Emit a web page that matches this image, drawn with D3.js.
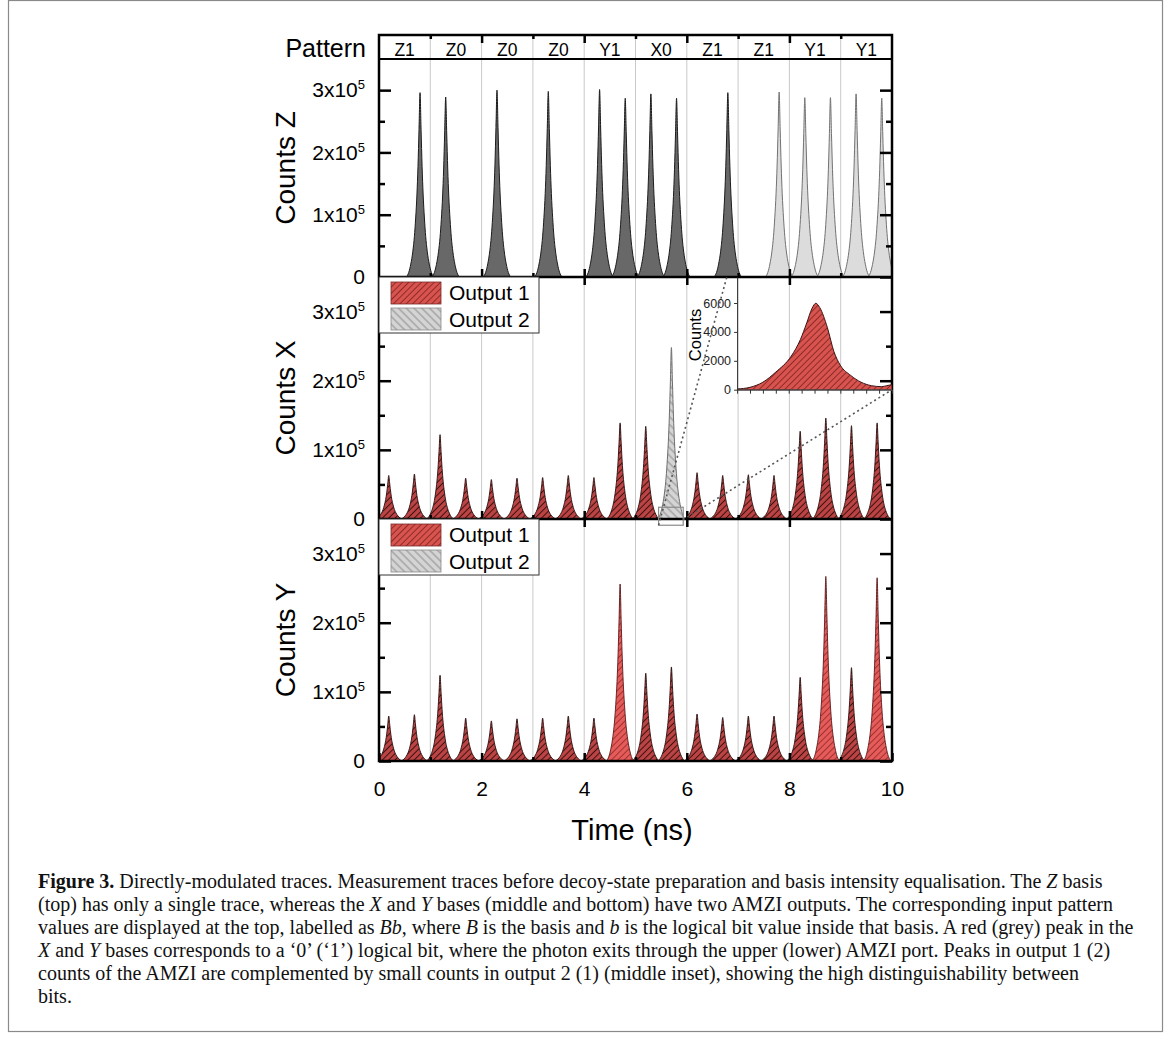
<!DOCTYPE html>
<html>
<head>
<meta charset="utf-8">
<script src="https://cdn.jsdelivr.net/npm/d3@7"></script>
<style>
  body { margin: 0; background: #fff; }
</style>
</head>
<body>
<div id="chart"></div>
<script>
// ---------------- data ----------------
const patternLabels = ["Z1", "Z0", "Z0", "Z0", "Y1", "X0", "Z1", "Z1", "Y1", "Y1"];

// Z basis (top panel): peak times (ns), peak counts, shade of the trace
const zTimes  = [0.80, 1.30, 2.30, 3.30, 4.30, 4.80, 5.30, 5.80, 6.80, 7.80, 8.30, 8.80, 9.30, 9.80];
const zCounts = [296000, 289000, 300000, 298000, 301000, 287000, 294000, 287000, 296000,
                 297000, 288000, 288000, 294000, 287000];
const zShade  = ["dark", "dark", "dark", "dark", "dark", "dark", "dark", "dark", "dark",
                 "light", "light", "light", "light", "light"];

// X and Y bases: time slots (ns) and counts of the two AMZI outputs
const slotTimes = [0.19, 0.69, 1.19, 1.69, 2.19, 2.69, 3.19, 3.69, 4.19, 4.70,
                   5.20, 5.70, 6.20, 6.70, 7.20, 7.70, 8.21, 8.71, 9.21, 9.71];
const xOutput1 = [63000, 65000, 122000, 59000, 57000, 59000, 60000, 63000, 60000, 139000,
                  134000, 6000, 67000, 63000, 64000, 63000, 127000, 146000, 135000, 139000];
const xOutput2 = [0, 0, 0, 0, 0, 0, 0, 0, 0, 0,
                  0, 248000, 0, 0, 0, 0, 0, 0, 0, 0];
const yOutput1 = [65000, 67000, 124000, 62000, 58000, 61000, 62000, 65000, 62000, 256000,
                  127000, 136000, 68000, 63000, 65000, 65000, 121000, 267000, 135000, 265000];
const yShade   = ["dark", "dark", "dark", "dark", "dark", "dark", "dark", "dark", "dark", "light",
                  "dark", "dark", "dark", "dark", "dark", "dark", "dark", "light", "dark", "light"];

// inset (middle panel): zoom on the small output-1 peak under the grey one
const insetTimes  = [5.40, 5.45, 5.50, 5.55, 5.61, 5.645, 5.67, 5.69, 5.705, 5.72,
                     5.75, 5.775, 5.80, 5.84, 5.88, 5.92, 5.96, 5.98, 6.00];
const insetCounts = [50, 165, 520, 1220, 2330, 3460, 4630, 5620, 5980, 5690,
                     4280, 2640, 1690, 990, 520, 280, 210, 280, 350];

// normalised shape of a single detector pulse (offset in ns, relative height)
const pulseOffsets = [-0.27, -0.22, -0.18, -0.14, -0.11, -0.085, -0.06, -0.04, -0.02, 0,
                      0.02, 0.04, 0.06, 0.085, 0.11, 0.14, 0.18, 0.22, 0.27];
const pulseShape   = [0, 0.025, 0.07, 0.14, 0.22, 0.32, 0.45, 0.60, 0.80, 1,
                      0.80, 0.60, 0.45, 0.32, 0.22, 0.14, 0.07, 0.025, 0];

// ---------------- layout ----------------
const W = 1171, H = 1039;
const left = 379, right = 892, patternTop = 35;
const panels = [
    { key: "Z", label: "Counts Z", top: 59,  bottom: 277 },
    { key: "X", label: "Counts X", top: 277, bottom: 519 },
    { key: "Y", label: "Counts Y", top: 519, bottom: 761 }
];
const sansFont = "'Liberation Sans', Arial, sans-serif";

const svg = d3.select("#chart").append("svg")
    .attr("width", W)
    .attr("height", H)
    .style("font-family", sansFont);

svg.append("rect").attr("width", W).attr("height", H).attr("fill", "#fff");

// hatch patterns
const defs = svg.append("defs");
function hatch(id, bg, line, angle, spacing, lw) {
    const p = defs.append("pattern")
        .attr("id", id)
        .attr("patternUnits", "userSpaceOnUse")
        .attr("width", spacing)
        .attr("height", spacing)
        .attr("patternTransform", `rotate(${angle})`);
    p.append("rect").attr("width", spacing).attr("height", spacing).attr("fill", bg);
    p.append("line")
        .attr("x1", spacing / 2).attr("y1", 0)
        .attr("x2", spacing / 2).attr("y2", spacing)
        .attr("stroke", line).attr("stroke-width", lw);
}
hatch("redDark", "#bc4444", "#3a1010", 45, 4.5, 1);
hatch("redLight", "#e65c5a", "#9e3030", 45, 4.5, 1);
hatch("redLegend", "#d9544f", "#8c2a28", 45, 4.5, 1);
hatch("greyHatch", "#d4d4d4", "#8e8e8e", -45, 5.5, 1);

const x = d3.scaleLinear().domain([0, 10]).range([left, right]);

// vertical grid lines at every ns
svg.append("g")
    .selectAll("line")
    .data(d3.range(1, 10))
    .join("line")
    .attr("x1", d => x(d)).attr("x2", d => x(d))
    .attr("y1", patternTop).attr("y2", panels[2].bottom)
    .attr("stroke", "#c9c9c9")
    .attr("stroke-width", 1);

// ---------------- peaks ----------------
function drawPeaks(g, y, times, counts, styleFn) {
    const area = d3.area()
        .x(d => x(d[0]))
        .y0(y(0))
        .y1(d => y(d[1]))
        .curve(d3.curveMonotoneX);
    times.forEach((t, i) => {
        if (!counts[i]) return;
        const pts = pulseOffsets.map((o, j) => [t + o, counts[i] * pulseShape[j]]);
        const s = styleFn(i);
        g.append("path")
            .attr("d", area(pts))
            .attr("fill", s.fill)
            .attr("stroke", s.stroke)
            .attr("stroke-width", s.sw)
            .attr("stroke-linejoin", "round");
    });
}

panels.forEach(p => {
    p.y = d3.scaleLinear().domain([0, 350000]).range([p.bottom, p.top]);
    defs.append("clipPath").attr("id", "clip" + p.key)
        .append("rect")
        .attr("x", left).attr("y", p.top)
        .attr("width", right - left).attr("height", p.bottom - p.top);
    p.g = svg.append("g").attr("clip-path", `url(#clip${p.key})`);
});

const zStyle = {
    dark:  { fill: "#686868", stroke: "#1c1c1c", sw: 1 },
    light: { fill: "#dcdcdc", stroke: "#727272", sw: 1 }
};
drawPeaks(panels[0].g, panels[0].y, zTimes, zCounts, i => zStyle[zShade[i]]);

const redStyle = {
    dark:  { fill: "url(#redDark)", stroke: "#2a1010", sw: 0.9 },
    light: { fill: "url(#redLight)", stroke: "#5a1a1a", sw: 0.9 }
};
drawPeaks(panels[1].g, panels[1].y, slotTimes, xOutput1, () => redStyle.dark);
drawPeaks(panels[1].g, panels[1].y, slotTimes, xOutput2,
    () => ({ fill: "url(#greyHatch)", stroke: "#6e6e6e", sw: 1 }));
drawPeaks(panels[2].g, panels[2].y, slotTimes, yOutput1, i => redStyle[yShade[i]]);

// ---------------- axes / frame ----------------
function yLabel(sel) {
    sel.selectAll(".tick text").each(function (d) {
        const t = d3.select(this).text(null);
        if (d === 0) {
            t.text("0");
        } else {
            t.append("tspan").text(`${d / 100000}x10`);
            t.append("tspan").attr("dy", -8).attr("font-size", 13).text("5");
        }
    });
}

function styleAxis(g) {
    g.select(".domain").remove();
    g.attr("font-family", sansFont).attr("font-size", 21);
    g.selectAll(".tick line").attr("stroke", "#000").attr("stroke-width", 2.5);
    g.selectAll(".tick text").attr("fill", "#000");
}

const majorY = [0, 100000, 200000, 300000];
const minorY = [50000, 150000, 250000];

panels.forEach((p, idx) => {
    // left axis with labels
    svg.append("g").attr("transform", `translate(${left},0)`)
        .call(d3.axisLeft(p.y).tickValues(majorY).tickSizeInner(-12).tickSizeOuter(0).tickPadding(14))
        .call(styleAxis)
        .call(yLabel);
    svg.append("g").attr("transform", `translate(${left},0)`)
        .call(d3.axisLeft(p.y).tickValues(minorY).tickSizeInner(-6).tickSizeOuter(0).tickFormat(""))
        .call(styleAxis);
    // right axis
    svg.append("g").attr("transform", `translate(${right},0)`)
        .call(d3.axisRight(p.y).tickValues(majorY).tickSizeInner(-12).tickSizeOuter(0).tickFormat(""))
        .call(styleAxis);
    svg.append("g").attr("transform", `translate(${right},0)`)
        .call(d3.axisRight(p.y).tickValues(minorY).tickSizeInner(-6).tickSizeOuter(0).tickFormat(""))
        .call(styleAxis);

    // x ticks at the bottom of each panel
    const isLast = idx === panels.length - 1;
    svg.append("g").attr("transform", `translate(0,${p.bottom})`)
        .call(d3.axisBottom(x).tickValues(isLast ? [0, 2, 4, 6, 8, 10] : [2, 4, 6, 8])
            .tickSizeInner(-8).tickSizeOuter(0).tickPadding(20)
            .tickFormat(isLast ? d3.format("d") : ""))
        .call(styleAxis);
    svg.append("g").attr("transform", `translate(0,${p.bottom})`)
        .call(d3.axisBottom(x).tickValues([1, 3, 5, 7, 9]).tickSizeInner(-4).tickSizeOuter(0).tickFormat(""))
        .call(styleAxis);
    // x ticks at the top of the X and Y panels
    if (idx > 0) {
        svg.append("g").attr("transform", `translate(0,${p.top})`)
            .call(d3.axisTop(x).tickValues([2, 4, 6, 8]).tickSizeInner(-8).tickSizeOuter(0).tickFormat(""))
            .call(styleAxis);
    }

    // panel title
    const cy = (p.top + p.bottom) / 2;
    svg.append("text")
        .attr("transform", `translate(295,${cy}) rotate(-90)`)
        .attr("text-anchor", "middle")
        .attr("font-size", 28)
        .text(p.label);
});

// top axis of the pattern row
svg.append("g").attr("transform", `translate(0,${patternTop})`)
    .call(d3.axisTop(x).tickValues([2, 4, 6, 8]).tickSizeInner(-8).tickSizeOuter(0).tickFormat(""))
    .call(styleAxis);
svg.append("g").attr("transform", `translate(0,${patternTop})`)
    .call(d3.axisTop(x).tickValues([1, 3, 5, 7, 9]).tickSizeInner(-4).tickSizeOuter(0).tickFormat(""))
    .call(styleAxis);

// separators and outer frame
svg.append("line")
    .attr("x1", left).attr("x2", right)
    .attr("y1", panels[0].top).attr("y2", panels[0].top)
    .attr("stroke", "#000").attr("stroke-width", 1.8);
[panels[1].top, panels[2].top].forEach(yy => {
    svg.append("line")
        .attr("x1", left).attr("x2", right)
        .attr("y1", yy).attr("y2", yy)
        .attr("stroke", "#000").attr("stroke-width", 2.5);
});
svg.append("rect")
    .attr("x", left).attr("y", patternTop)
    .attr("width", right - left).attr("height", panels[2].bottom - patternTop)
    .attr("fill", "none").attr("stroke", "#000").attr("stroke-width", 2.5);

// pattern row
svg.append("text")
    .attr("x", 366).attr("y", 57)
    .attr("text-anchor", "end")
    .attr("font-size", 25)
    .text("Pattern");
svg.append("g")
    .selectAll("text")
    .data(patternLabels)
    .join("text")
    .attr("x", (d, i) => x(i + 0.5))
    .attr("y", 56)
    .attr("text-anchor", "middle")
    .attr("font-size", 17.5)
    .text(d => d);

// x axis title
svg.append("text")
    .attr("x", 632).attr("y", 840)
    .attr("text-anchor", "middle")
    .attr("font-size", 29)
    .text("Time (ns)");

// ---------------- legends ----------------
function legend(p) {
    const g = svg.append("g").attr("transform", `translate(${left},${p.top})`);
    g.append("rect")
        .attr("width", 160).attr("height", 56)
        .attr("fill", "#fff").attr("stroke", "#333").attr("stroke-width", 1);
    const items = [
        { name: "Output 1", fill: "url(#redLegend)", stroke: "#7a2a2a" },
        { name: "Output 2", fill: "url(#greyHatch)", stroke: "#8a8a8a" }
    ];
    items.forEach((it, i) => {
        g.append("rect")
            .attr("x", 12).attr("y", 5 + i * 26)
            .attr("width", 50).attr("height", 22)
            .attr("fill", it.fill).attr("stroke", it.stroke).attr("stroke-width", 0.8);
        g.append("text")
            .attr("x", 70).attr("y", 23 + i * 27)
            .attr("font-size", 21)
            .text(it.name);
    });
}
legend(panels[1]);
legend(panels[2]);

// ---------------- inset ----------------
const pX = panels[1];
const insetLeft = x(6.98), insetRight = x(10);
const insetBottom = pX.y(187000), insetTop = pX.top;
const ix = d3.scaleLinear().domain([5.4, 6.0]).range([insetLeft, insetRight]);
const iy = d3.scaleLinear().domain([0, 7800]).range([insetBottom, insetTop]);

defs.append("clipPath").attr("id", "clipInset")
    .append("rect")
    .attr("x", insetLeft).attr("y", insetTop)
    .attr("width", insetRight - insetLeft).attr("height", insetBottom - insetTop);

svg.append("path")
    .datum(insetTimes.map((t, i) => [t, insetCounts[i]]))
    .attr("clip-path", "url(#clipInset)")
    .attr("d", d3.area().x(d => ix(d[0])).y0(iy(0)).y1(d => iy(d[1])).curve(d3.curveMonotoneX))
    .attr("fill", "url(#redLegend)")
    .attr("stroke", "#3a1414")
    .attr("stroke-width", 1);

const insetY = svg.append("g").attr("transform", `translate(${insetLeft},0)`)
    .call(d3.axisLeft(iy).tickValues([0, 2000, 4000, 6000]).tickSizeInner(3).tickSizeOuter(0)
        .tickPadding(3).tickFormat(d3.format("d")));
insetY.select(".domain").attr("stroke", "#333");
insetY.attr("font-family", sansFont).attr("font-size", 12.5);
insetY.selectAll(".tick line").attr("stroke", "#333");
insetY.selectAll(".tick text").attr("fill", "#222");

const insetX = svg.append("g").attr("transform", `translate(0,${insetBottom})`)
    .call(d3.axisBottom(ix).tickValues(d3.range(5.4, 6.001, 0.05)).tickSizeInner(4).tickSizeOuter(0).tickFormat(""));
insetX.select(".domain").attr("stroke", "#333");
insetX.selectAll(".tick line").attr("stroke", "#333");

svg.append("text")
    .attr("transform", `translate(701,335) rotate(-90)`)
    .attr("text-anchor", "middle")
    .attr("font-size", 16.5)
    .text("Counts");

// zoom box and dotted connectors
svg.append("rect")
    .attr("x", x(5.45)).attr("y", pX.y(17000))
    .attr("width", x(5.93) - x(5.45)).attr("height", pX.y(-9000) - pX.y(17000))
    .attr("fill", "none").attr("stroke", "#8a8a8a").attr("stroke-width", 1.2);

const connectors = [
    [[5.45, -9000], [6.78, 350000]],
    [[5.93, -1000], [10, 187000]]
];
svg.append("g")
    .selectAll("line")
    .data(connectors)
    .join("line")
    .attr("x1", d => x(d[0][0])).attr("y1", d => pX.y(d[0][1]))
    .attr("x2", d => x(d[1][0])).attr("y2", d => pX.y(d[1][1]))
    .attr("stroke", "#555")
    .attr("stroke-width", 1.6)
    .attr("stroke-dasharray", "2,3");

// ---------------- caption ----------------
const captionLines = [
    [["Figure 3.", "b"], [" Directly-modulated traces. Measurement traces before decoy-state preparation and basis intensity equalisation. The ", ""], ["Z", "i"], [" basis", ""]],
    [["(top) has only a single trace, whereas the ", ""], ["X", "i"], [" and ", ""], ["Y", "i"], [" bases (middle and bottom) have two AMZI outputs. The corresponding input pattern", ""]],
    [["values are displayed at the top, labelled as ", ""], ["Bb", "i"], [", where ", ""], ["B", "i"], [" is the basis and ", ""], ["b", "i"], [" is the logical bit value inside that basis. A red (grey) peak in the", ""]],
    [["X", "i"], [" and ", ""], ["Y", "i"], [" bases corresponds to a \u20180\u2019 (\u20181\u2019) logical bit, where the photon exits through the upper (lower) AMZI port. Peaks in output 1 (2)", ""]],
    [["counts of the AMZI are complemented by small counts in output 2 (1) (middle inset), showing the high distinguishability between", ""]],
    [["bits.", ""]]
];

const cap = svg.append("g")
    .attr("font-family", "'Liberation Serif', 'Times New Roman', serif")
    .attr("font-size", 17.5)
    .attr("fill", "#111");
const capTexts = captionLines.map((line, i) => {
    const t = cap.append("text").attr("x", 38).attr("y", 888 + i * 23);
    line.forEach(seg => {
        const s = t.append("tspan").text(seg[0]);
        if (seg[1] === "b") s.attr("font-weight", "bold");
        if (seg[1] === "i") s.attr("font-style", "italic");
    });
    return t;
});
// fit the font so that the first line spans the same width as in the figure
const firstLen = capTexts[0].node().getComputedTextLength();
const fitSize = Math.max(15, Math.min(20, 17.5 * 1093 / firstLen));
cap.attr("font-size", fitSize);

// figure border
svg.append("rect")
    .attr("x", 8.5).attr("y", 0.5)
    .attr("width", 1154).attr("height", 1031)
    .attr("fill", "none").attr("stroke", "#8a8a8a").attr("stroke-width", 1.2);
</script>
</body>
</html>
